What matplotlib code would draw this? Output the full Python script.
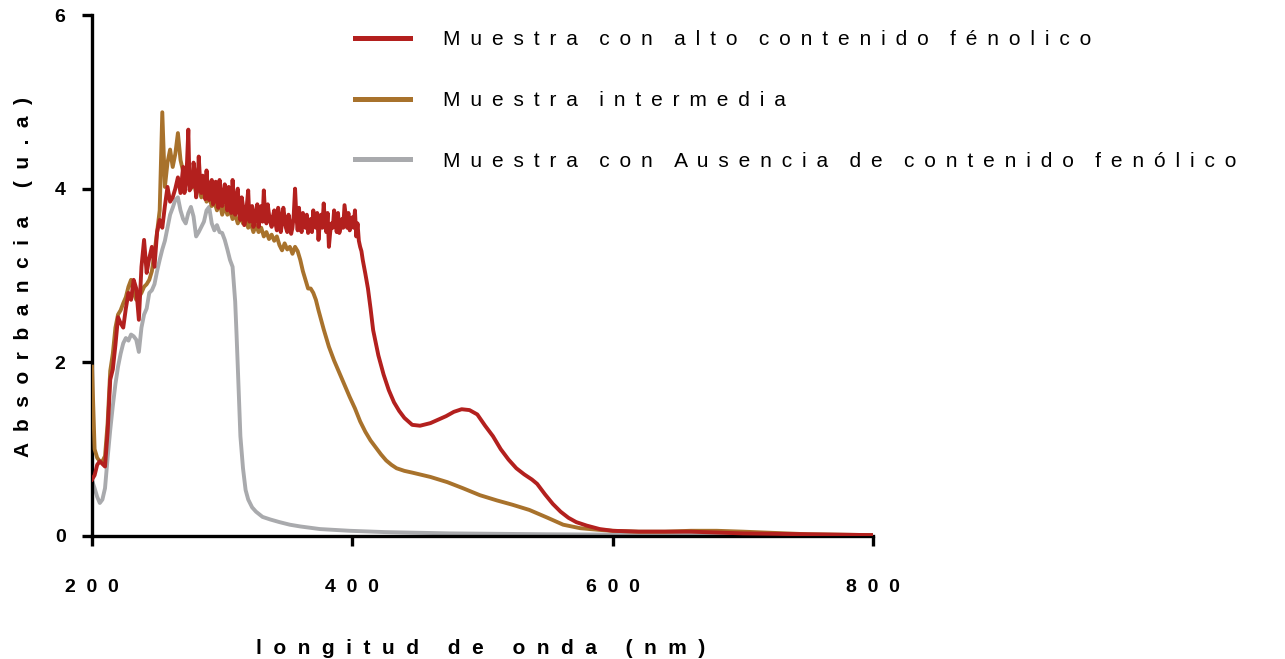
import matplotlib
matplotlib.use("Agg")
import matplotlib.pyplot as plt
from matplotlib.lines import Line2D

# ---------------- data ----------------
red_wl_a = list(range(200, 270, 2))
red_abs_a = [
    0.65, 0.70, 0.82, 0.86, 0.83, 0.80, 1.20, 1.80, 1.92, 2.20,
    2.52, 2.45, 2.40, 2.62, 2.80, 2.72, 2.95, 2.85, 2.49, 3.10,
    3.41, 3.03, 3.20, 3.33, 3.10, 3.50, 3.64, 3.55, 3.80, 4.02,
    3.85, 3.90, 4.00, 4.13, 3.95,
]
red_wl_b = list(range(270, 411))
red_abs_b = [
    4.25, 3.95, 4.05, 4.30, 4.68, 3.98, 4.10, 4.02, 4.30, 4.18,
    3.90, 4.00, 4.37, 4.10, 3.95, 4.15, 4.02, 3.88, 4.21, 3.98,
    3.87, 4.05, 4.10, 3.82, 3.85, 4.08, 3.95, 3.78, 4.10, 3.92,
    3.80, 3.95, 4.05, 3.85, 3.75, 4.02, 3.90, 3.72, 4.10, 3.85,
    3.70, 3.92, 4.00, 3.72, 3.64, 3.90, 3.80, 3.58, 3.65, 3.82,
    3.98, 3.62, 3.70, 3.80, 3.56, 3.62, 3.75, 3.82, 3.56, 3.70,
    3.80, 3.62, 3.98, 3.70, 3.60, 3.82, 3.70, 3.62, 3.56, 3.68,
    3.75, 3.60, 3.52, 3.78, 3.70, 3.50, 3.60, 3.78, 3.66, 3.55,
    3.50, 3.70, 3.60, 3.48, 3.55, 3.70, 4.00, 3.68, 3.52, 3.78,
    3.60, 3.50, 3.72, 3.62, 3.55, 3.70, 3.49, 3.58, 3.65, 3.50,
    3.75, 3.62, 3.55, 3.72, 3.41, 3.60, 3.70, 3.55, 3.83, 3.62,
    3.50, 3.72, 3.33, 3.50, 3.60, 3.55, 3.75, 3.62, 3.50, 3.72,
    3.49, 3.55, 3.65, 3.55, 3.81, 3.68, 3.55, 3.72, 3.52, 3.58,
    3.67, 3.55, 3.75, 3.45, 3.60, 3.40, 3.33, 3.28, 3.18, 3.10, 3.02,
]
red_wl_c = [412, 414, 416, 420, 424, 428, 432, 436, 440, 446, 452, 460, 466,
            472, 478, 484, 490, 496, 502, 508, 514, 520, 526, 532, 538, 542,
            548, 554, 560, 566, 572, 580, 590, 600, 620, 640, 660, 680, 700,
            750, 800]
red_abs_c = [2.85, 2.62, 2.37, 2.08, 1.86, 1.68, 1.54, 1.44, 1.36, 1.28, 1.27,
             1.30, 1.34, 1.38, 1.43, 1.46, 1.45, 1.40, 1.27, 1.15, 1.00, 0.88,
             0.78, 0.71, 0.65, 0.60, 0.48, 0.37, 0.28, 0.21, 0.16, 0.12, 0.08,
             0.06, 0.05, 0.05, 0.05, 0.04, 0.03, 0.02, 0.01]

brown_wl_a = list(range(200, 374, 2))
brown_abs_a = [
    1.95, 1.00, 0.90, 0.86, 0.86, 0.92, 1.30, 1.90, 2.10, 2.40,
    2.55, 2.60, 2.68, 2.75, 2.87, 2.95, 2.80, 2.72, 2.75, 2.80,
    2.87, 2.90, 2.95, 3.05, 3.26, 3.50, 3.75, 4.88, 4.02, 4.30,
    4.45, 4.25, 4.40, 4.64, 4.33, 4.20, 4.10, 4.30, 4.00, 4.10,
    3.95, 4.05, 3.90, 3.95, 3.85, 3.90, 3.80, 3.85, 3.75, 3.85,
    3.70, 3.80, 3.70, 3.75, 3.65, 3.70, 3.60, 3.68, 3.60, 3.65,
    3.55, 3.60, 3.50, 3.58, 3.50, 3.55, 3.45, 3.50, 3.42, 3.47,
    3.40, 3.45, 3.35, 3.29, 3.37, 3.30, 3.33, 3.25, 3.33, 3.28,
    3.18, 3.05, 2.95, 2.85, 2.85, 2.80, 2.72,
]
brown_wl_b = [374, 378, 382, 386, 390, 394, 398, 402, 406, 410, 414, 418, 422,
              426, 430, 434, 440, 446, 460, 473, 485, 498, 511, 523, 536, 550,
              562, 575, 590, 600, 620, 640, 660, 680, 700, 750, 800]
brown_abs_b = [2.60, 2.38, 2.18, 2.02, 1.88, 1.74, 1.60, 1.47, 1.32, 1.20, 1.10,
               1.02, 0.94, 0.87, 0.82, 0.78, 0.75, 0.73, 0.68, 0.62, 0.55, 0.47,
               0.41, 0.36, 0.30, 0.21, 0.13, 0.09, 0.07, 0.06, 0.05, 0.05, 0.06,
               0.06, 0.05, 0.02, 0.01]

gray_wl = [200, 202, 204, 206, 208, 210, 212, 214, 216, 218, 220, 222, 224,
           226, 228, 230, 232, 234, 236, 238, 240, 242, 244, 246, 248, 250,
           252, 254, 256, 258, 260, 262, 264, 266, 268, 270, 272, 274, 276,
           278, 280, 282, 284, 286, 288, 290, 292, 294, 296, 298, 300, 302,
           304, 306, 308, 310, 311, 312, 314, 316, 318, 320, 323, 326, 331,
           337, 344, 352, 360, 375, 398, 425, 475, 550, 650, 800]
gray_abs = [0.64, 0.55, 0.45, 0.38, 0.42, 0.55, 0.90, 1.22, 1.50, 1.75, 1.95,
            2.10, 2.22, 2.28, 2.25, 2.32, 2.30, 2.26, 2.12, 2.40, 2.55, 2.62,
            2.80, 2.83, 2.90, 3.05, 3.18, 3.30, 3.40, 3.55, 3.70, 3.78, 3.87,
            3.90, 3.75, 3.65, 3.60, 3.72, 3.79, 3.68, 3.45, 3.50, 3.56, 3.62,
            3.75, 3.79, 3.60, 3.52, 3.58, 3.50, 3.49, 3.41, 3.30, 3.18, 3.10,
            2.70, 2.34, 1.95, 1.15, 0.78, 0.53, 0.42, 0.33, 0.28, 0.22, 0.19,
            0.16, 0.13, 0.11, 0.08, 0.06, 0.045, 0.03, 0.02, 0.012, 0.01]

labels = ["Muestra con alto contenido fénolico",
          "Muestra intermedia",
          "Muestra con Ausencia de contenido fenólico"]
colors = ["#B3201E", "#A8722C", "#A9AAAD"]
x_ticks = [200, 400, 600, 800]
y_ticks = [0, 2, 4, 6]
x_label = "longitud de onda (nm)"
y_label = "Absorbancia (u.a)"


def spaced(text, sep=" ", wsep="   "):
    return wsep.join(sep.join(w) for w in text.split(" "))


FONT = ["Liberation Sans", "DejaVu Sans"]

fig = plt.figure(figsize=(12.85, 6.59), dpi=100)
ax = fig.add_axes([92 / 1285, 1 - 536 / 659, 781 / 1285, 521 / 659])

lw = 2.8
ax.plot(gray_wl, gray_abs, color=colors[2], lw=lw, zorder=2)
ax.plot(brown_wl_a + brown_wl_b, brown_abs_a + brown_abs_b,
        color=colors[1], lw=lw, zorder=3)
ax.plot(red_wl_a + red_wl_b + red_wl_c, red_abs_a + red_abs_b + red_abs_c,
        color=colors[0], lw=lw, zorder=4)

ax.set_xlim(200, 800)
ax.set_ylim(0, 6)
for s in ["top", "right"]:
    ax.spines[s].set_visible(False)
for s in ["left", "bottom"]:
    ax.spines[s].set_linewidth(2.4)
    ax.spines[s].set_capstyle("projecting")

ax.set_xticks(x_ticks)
ax.set_yticks(y_ticks)
ax.set_xticklabels([spaced(str(t), sep="  ") for t in x_ticks],
                   fontfamily=FONT, fontweight="bold", fontsize=14)
ax.set_yticklabels([str(t) for t in y_ticks],
                   fontfamily=FONT, fontweight="bold", fontsize=14)
ax.tick_params(axis="x", direction="out", length=7, width=2.4, pad=24)
ax.tick_params(axis="y", direction="out", length=7, width=2.4, pad=12)

ax.set_xlabel(spaced(x_label, sep="  ", wsep="     "), fontfamily=FONT,
              fontweight="bold", fontsize=15)
ax.xaxis.set_label_coords(0.497, -0.198)
ax.set_ylabel(spaced(y_label, sep="  ", wsep="     "), fontfamily=FONT,
              fontweight="bold", fontsize=15)
ax.yaxis.set_label_coords(-0.076, 0.497)

handles = [Line2D([], [], color=c, lw=3.6) for c in colors]
fig.legend(handles,
           [spaced(l, sep=" \u2009", wsep="   \u2009") for l in labels],
           loc="upper left", bbox_to_anchor=(347 / 1285, 1 - 22 / 659),
           frameon=False, handlelength=2.64, handletextpad=1.59,
           labelspacing=2.0, borderaxespad=0,
           prop={"family": FONT, "size": 15})

fig.savefig("out.png", dpi=100)
